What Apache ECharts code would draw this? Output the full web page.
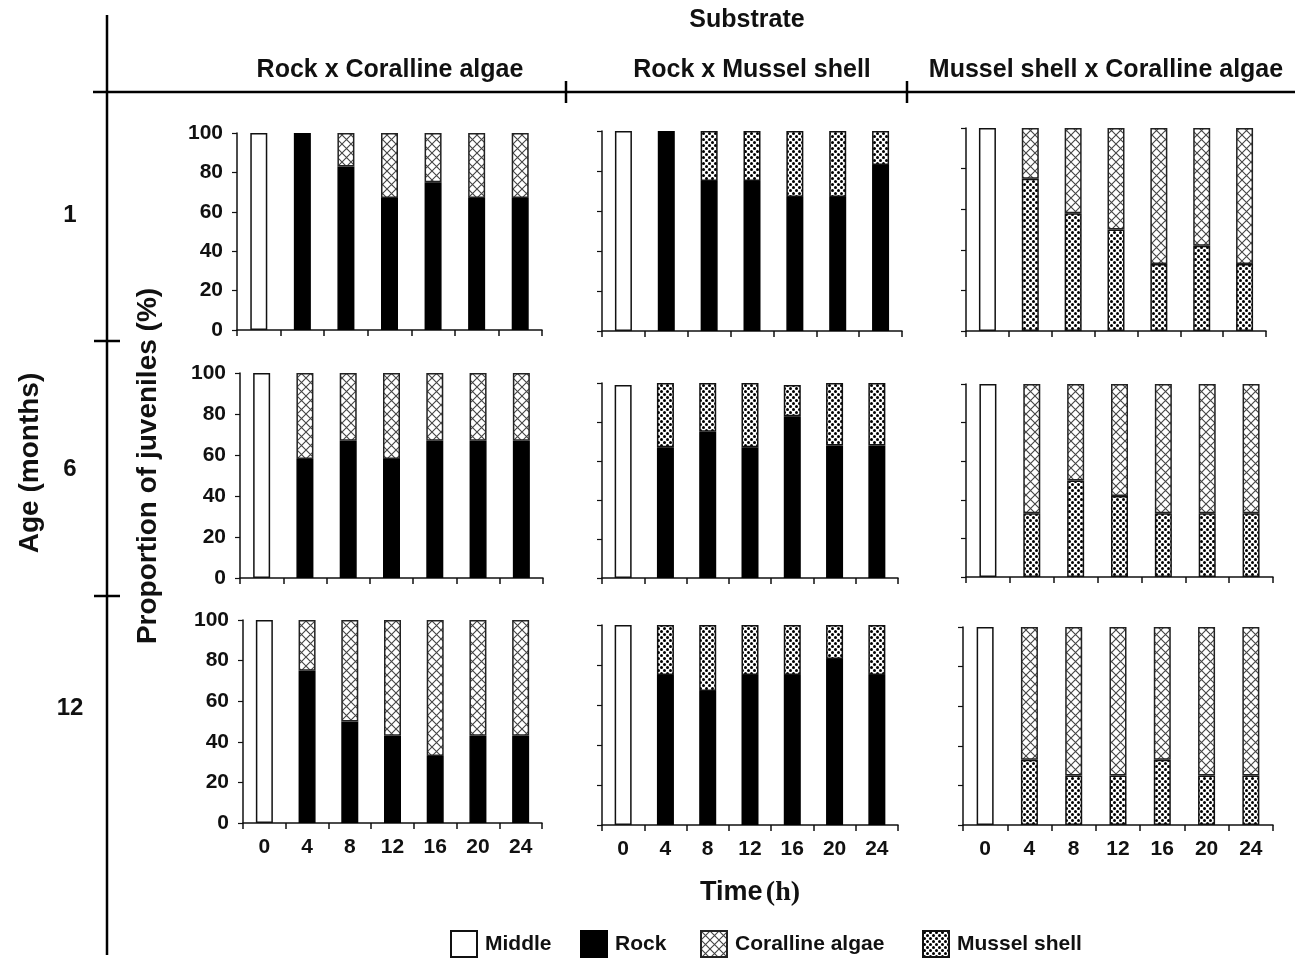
<!DOCTYPE html>
<html>
<head>
<meta charset="utf-8">
<script src="https://cdn.jsdelivr.net/npm/echarts@6/dist/echarts.min.js"></script>
<style>html,body{margin:0;padding:0;background:#fff}#c{width:1295px;height:961px}</style>
</head>
<body>
<div id="c"></div>
<script>
// ---------- DATA ----------
const times = ['0', '4', '8', '12', '16', '20', '24'];
const ages = ['1', '6', '12'];
const substrates = ['Rock x Coralline algae', 'Rock x Mussel shell', 'Mussel shell x Coralline algae'];
const legendNames = ['Middle', 'Rock', 'Coralline algae', 'Mussel shell'];
const yTicks = [0, 20, 40, 60, 80, 100];

// Middle (time 0 only) per age row, per substrate column
const middleAge1 = [100, 100, 100];
const middleAge6 = [100, 99, 100];
const middleAge12 = [100, 100, 100];

// Rock x Coralline algae (lower: Rock, upper: Coralline algae), times 4..24
const rcRock1 = [100, 83, 67, 75, 67, 67];
const rcCoral1 = [0, 17, 33, 25, 33, 33];
const rcRock6 = [58, 67, 58, 67, 67, 67];
const rcCoral6 = [42, 33, 42, 33, 33, 33];
const rcRock12 = [75, 50, 43, 33, 43, 43];
const rcCoral12 = [25, 50, 57, 67, 57, 57];

// Rock x Mussel shell (lower: Rock, upper: Mussel shell)
const rmRock1 = [100, 75, 75, 67, 67, 83];
const rmMussel1 = [0, 25, 25, 33, 33, 17];
const rmRock6 = [67, 75, 67, 83, 68, 68];
const rmMussel6 = [33, 25, 33, 16, 32, 32];
const rmRock12 = [75, 67, 75, 75, 83, 75];
const rmMussel12 = [25, 33, 25, 25, 17, 25];

// Mussel shell x Coralline algae (lower: Mussel shell, upper: Coralline algae)
const mcMussel1 = [75, 58, 50, 33, 42, 33];
const mcCoral1 = [25, 42, 50, 67, 58, 67];
const mcMussel6 = [33, 50, 42, 33, 33, 33];
const mcCoral6 = [67, 50, 58, 67, 67, 67];
const mcMussel12 = [33, 25, 25, 33, 25, 25];
const mcCoral12 = [67, 75, 75, 67, 75, 75];

// ---------- LAYOUT ----------
const gridBoxes = [
  [[237, 133, 305, 197], [602, 131, 300, 200], [966, 128, 300, 203]],
  [[240, 373, 303, 205], [602, 383, 296, 195], [966, 384, 307, 193]],
  [[243, 620, 299, 203], [602, 625, 296, 200], [963, 627, 310, 198]]
];
const legendLefts = [450, 580, 700, 922];
const FONT = '"Liberation Sans", Arial, sans-serif';

// ---------- PATTERNS ----------
function hatchCanvas() {
  const s = 9, cv = document.createElement('canvas');
  cv.width = s; cv.height = s;
  const g = cv.getContext('2d');
  g.fillStyle = '#fff'; g.fillRect(0, 0, s, s);
  g.strokeStyle = '#444'; g.lineWidth = 1.1;
  g.beginPath();
  g.moveTo(0, 0); g.lineTo(s, s);
  g.moveTo(s, 0); g.lineTo(0, s);
  g.stroke();
  return cv;
}
function dotCanvas() {
  const s = 6, cv = document.createElement('canvas');
  cv.width = s; cv.height = s;
  const g = cv.getContext('2d');
  g.fillStyle = '#fff'; g.fillRect(0, 0, s, s);
  g.fillStyle = '#000';
  [[1.5, 1.5], [4.5, 4.5]].forEach(p => { g.beginPath(); g.arc(p[0], p[1], 1.5, 0, Math.PI * 2); g.fill(); });
  return cv;
}
const hatch = { image: hatchCanvas(), repeat: 'repeat' };
const dots = { image: dotCanvas(), repeat: 'repeat' };

const styles = {
  'Middle': { color: '#fff', borderColor: '#111', borderWidth: 1.5 },
  'Rock': { color: '#000', borderColor: '#000', borderWidth: 1.5 },
  'Coralline algae': { color: hatch, borderColor: '#222', borderWidth: 1.5 },
  'Mussel shell': { color: dots, borderColor: '#111', borderWidth: 1.5 }
};

const middleRows = [middleAge1, middleAge6, middleAge12];
const panelData = [
  [[['Rock', rcRock1], ['Coralline algae', rcCoral1]], [['Rock', rmRock1], ['Mussel shell', rmMussel1]], [['Mussel shell', mcMussel1], ['Coralline algae', mcCoral1]]],
  [[['Rock', rcRock6], ['Coralline algae', rcCoral6]], [['Rock', rmRock6], ['Mussel shell', rmMussel6]], [['Mussel shell', mcMussel6], ['Coralline algae', mcCoral6]]],
  [[['Rock', rcRock12], ['Coralline algae', rcCoral12]], [['Rock', rmRock12], ['Mussel shell', rmMussel12]], [['Mussel shell', mcMussel12], ['Coralline algae', mcCoral12]]]
];

const grid = [], xAxis = [], yAxis = [], series = [];
const clean = v => (v === 0 ? null : v);
for (let r = 0; r < 3; r++) {
  for (let c = 0; c < 3; c++) {
    const i = r * 3 + c;
    const b = gridBoxes[r][c];
    grid.push({ left: b[0], top: b[1], width: b[2], height: b[3] });
    xAxis.push({
      type: 'category', gridIndex: i, data: times,
      axisLine: { lineStyle: { color: '#111', width: 1.5 } },
      axisTick: { show: true, length: 6, lineStyle: { color: '#111', width: 1.5 } },
      axisLabel: { show: r === 2, fontFamily: FONT, fontWeight: 'bold', fontSize: 21, color: '#111', margin: 14 }
    });
    yAxis.push({
      type: 'value', gridIndex: i, min: yTicks[0], max: yTicks[yTicks.length - 1], interval: 20,
      axisLine: { show: true, lineStyle: { color: '#111', width: 1.5 } },
      axisTick: { show: true, length: 5, lineStyle: { color: '#111', width: 1.2 } },
      splitLine: { show: false },
      axisLabel: { show: c === 0, fontFamily: FONT, fontWeight: 'bold', fontSize: 21, color: '#111', margin: 14 }
    });
    const stack = 's' + i;
    const mid = times.map((t, k) => (k === 0 ? middleRows[r][c] : null));
    series.push({ type: 'bar', name: 'Middle', xAxisIndex: i, yAxisIndex: i, stack, barWidth: 17, data: mid, itemStyle: styles['Middle'], silent: true });
    panelData[r][c].forEach(([name, vals]) => {
      series.push({
        type: 'bar', name, xAxisIndex: i, yAxisIndex: i, stack, barWidth: 17,
        data: [null].concat(vals.map(clean)), itemStyle: styles[name], silent: true
      });
    });
  }
}

// ---------- DECORATION ----------
const txt = (text, x, y, size, rot) => ({
  type: 'text', x, y, rotation: rot || 0,
  style: { text, x: 0, y: 0, align: 'center', verticalAlign: 'middle', font: 'bold ' + size + 'px ' + FONT, fill: '#111' }
});
const line = (x1, y1, x2, y2) => ({ type: 'line', shape: { x1, y1, x2, y2 }, style: { stroke: '#000', lineWidth: 2.5 } });

const graphic = [
  line(107, 15, 107, 955),
  line(93, 92, 1295, 92),
  line(566, 81, 566, 103),
  line(907, 81, 907, 103),
  line(94, 341, 120, 341),
  line(94, 596, 120, 596),
  txt('Substrate', 747, 20, 25),
  txt(substrates[0], 390, 70, 25),
  txt(substrates[1], 752, 70, 25),
  txt(substrates[2], 1106, 70, 25),
  txt(ages[0], 70, 215, 24),
  txt(ages[1], 70, 469, 24),
  txt(ages[2], 70, 708, 24),
  txt('Age (months)', 30, 463, 28, Math.PI / 2),
  txt('Proportion of juveniles (%)', 148, 466, 28, Math.PI / 2),
  {
    type: 'text', x: 750, y: 893,
    style: {
      text: '{a|Time} {b|(h)}', x: 0, y: 0, align: 'center', verticalAlign: 'middle',
      rich: {
        a: { fontFamily: FONT, fontWeight: 'bold', fontSize: 27, fill: '#111', color: '#111' },
        b: { fontFamily: '"Liberation Serif", "Times New Roman", serif', fontWeight: 'bold', fontSize: 28, fill: '#111', color: '#111' }
      }
    }
  }
];

const legend = legendNames.map((n, k) => ({
  data: [n], left: legendLefts[k], top: 930, icon: 'rect', itemWidth: 26, itemHeight: 26,
  selectedMode: false, padding: 0,
  textStyle: { fontFamily: FONT, fontWeight: 'bold', fontSize: 21, color: '#111', padding: [0, 0, 0, 3] }
}));

const chart = echarts.init(document.getElementById('c'), null, { renderer: 'canvas' });
chart.setOption({
  animation: false,
  backgroundColor: '#fff',
  grid, xAxis, yAxis, series, graphic, legend
});
</script>
</body>
</html>
